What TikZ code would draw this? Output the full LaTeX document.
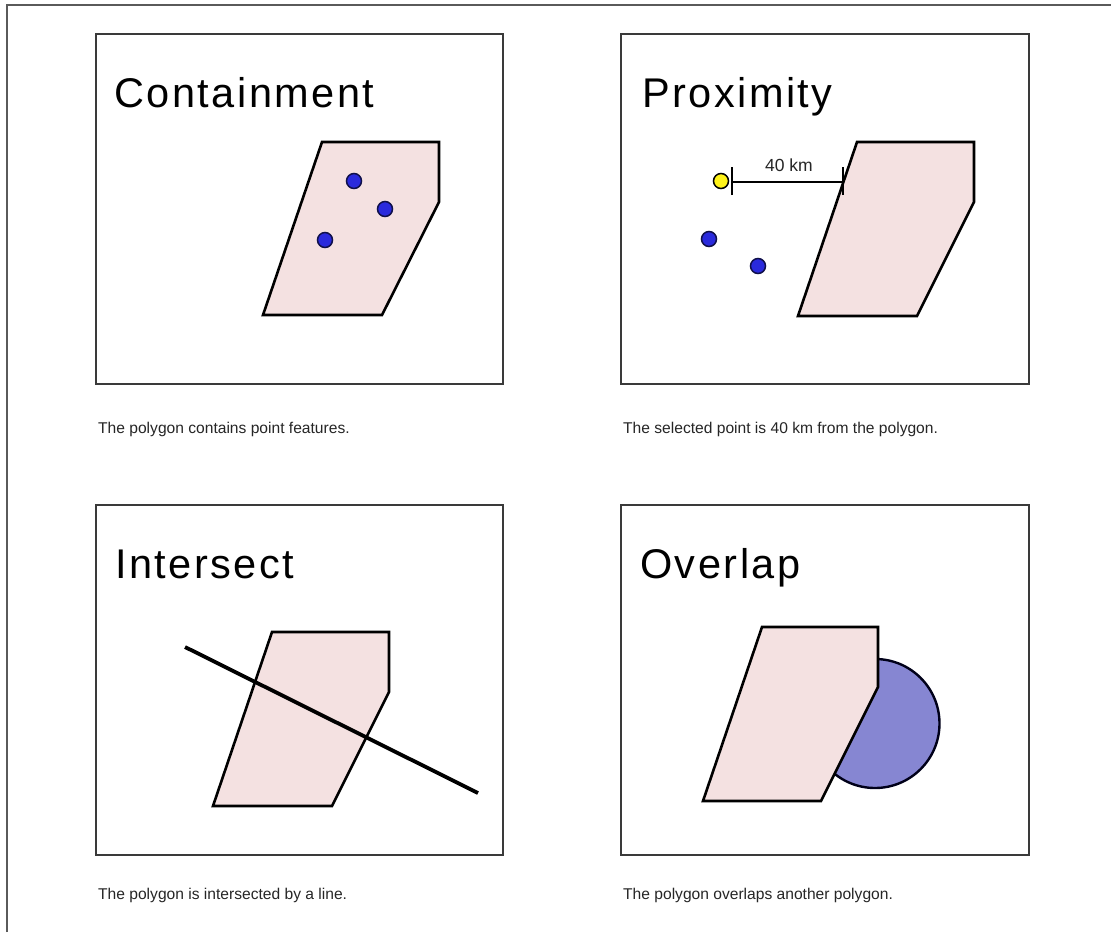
\documentclass[tikz,border=0pt]{standalone}
\usepackage{fontspec}
\setmainfont{Liberation Sans}
\newfontfamily\titlefont[LetterSpace=6]{Liberation Sans}
\newfontfamily\capfont{Liberation Sans}
\definecolor{polyfill}{HTML}{F4E1E1}
\definecolor{circfill}{HTML}{8686D2}
\definecolor{dotblue}{HTML}{2A2ADC}
\definecolor{dotedge}{HTML}{10104A}
\definecolor{frame}{HTML}{5A5A5A}
\definecolor{panelline}{HTML}{3A3A3A}
\tikzset{
  panel/.style={draw=panelline, line width=1.4pt},
  poly/.style={draw=black, fill=polyfill, line width=2.6pt, line join=miter},
  bdot/.style={draw=dotedge, fill=dotblue, line width=1.5pt},
  ydot/.style={draw=black, fill=yellow!90!white, line width=1.5pt},
  title/.style={anchor=base west, inner sep=0pt, font=\titlefont\fontsize{41.5}{41.5}\selectfont},
  caption/.style={anchor=base west, inner sep=0pt, font=\capfont\fontsize{15.6}{15.6}\selectfont, text=black!85},
}
\begin{document}
\begin{tikzpicture}[x=1pt, y=-1pt]
\useasboundingbox (0,0) rectangle (1111,932);
\fill[white] (0,0) rectangle (1111,932);
% outer frame
\draw[frame, line width=2.2pt] (7,932) -- (7,5) -- (1111,5);
% panels
\draw[panel] (96,34) rectangle (503,384);
\draw[panel] (621,34) rectangle (1029,384);
\draw[panel] (96,505) rectangle (503,855);
\draw[panel] (621,505) rectangle (1029,855);
% titles
\node[title] (t1) at (114,107) {Containment};
\node[title] (t2) at (642,107) {Proximity};
\node[title] (t3) at (115,578) {Intersect};
\node[title] (t4) at (640,578) {Overlap};
% captions
\node[caption] (c1) at (98,433) {The polygon contains point features.};
\node[caption] (c2) at (623,433) {The selected point is 40 km from the polygon.};
\node[caption] (c3) at (98,899) {The polygon is intersected by a line.};
\node[caption] (c4) at (623,899) {The polygon overlaps another polygon.};
% containment
\draw[poly] (322,142) -- (439,142) -- (439,202) -- (382,315) -- (263,315) -- cycle;
\draw[bdot] (354,181) circle (7.5);
\draw[bdot] (385,209) circle (7.5);
\draw[bdot] (325,240) circle (7.5);
% proximity
\draw[poly] (857,142) -- (974,142) -- (974,202) -- (917,316) -- (798,316) -- cycle;
\draw[ydot] (721,181) circle (7.5);
\draw[bdot] (709,239) circle (7.5);
\draw[bdot] (758,266) circle (7.5);
\coordinate (ma) at (732,182);
\coordinate (mb) at (843,182);
\draw[line width=1.2pt] (ma) -- (mb);
\draw[line width=1.2pt] ([yshift=-13]ma) -- ([yshift=15]ma);
\draw[line width=1.2pt] ([yshift=-13]mb) -- ([yshift=15]mb);
\node[anchor=base, inner sep=0pt, font=\fontsize{17.5}{17.5}\selectfont, text=black!85] (km) at (789,171) {40 km};
% intersect
\draw[poly] (272,632) -- (389,632) -- (389,692) -- (332,806) -- (213,806) -- cycle;
\coordinate (la) at (185,647);
\coordinate (lb) at (478,793);
\draw[line width=3.8pt] (la) -- (lb);
% overlap
\draw[draw=black!90!blue, fill=circfill, line width=2.4pt] (875,723.5) circle (64.5);
\draw[poly] (762,627) -- (878,627) -- (878,687) -- (821,801) -- (703,801) -- cycle;
\end{tikzpicture}
\end{document}
